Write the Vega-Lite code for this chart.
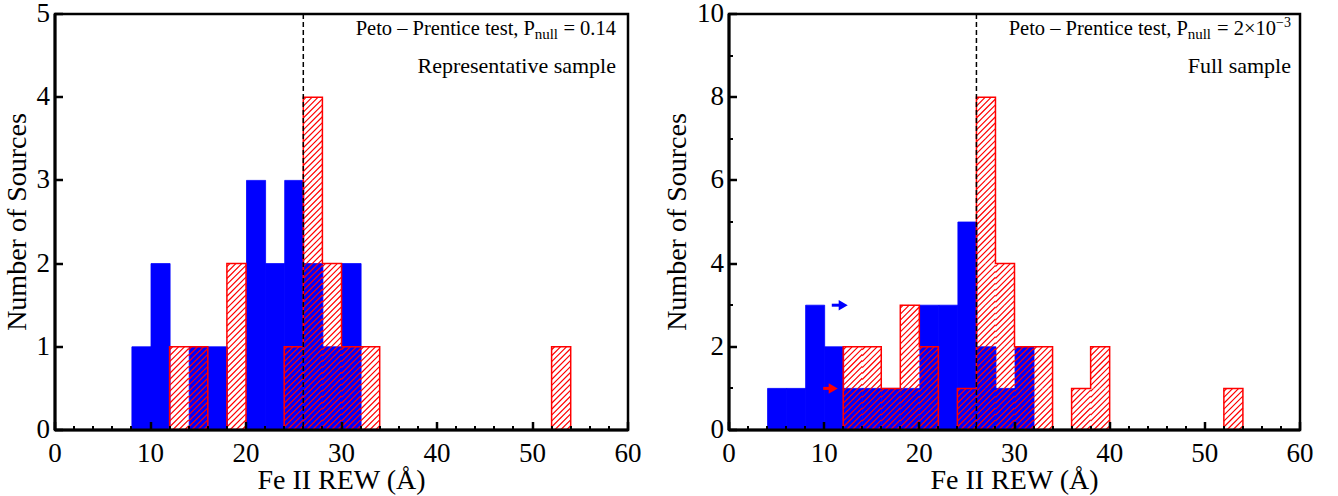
{
"$schema":"https://vega.github.io/schema/vega-lite/v6.json",
"background":"white",
"padding":{"left":2,"top":-2,"right":0,"bottom":0},
"spacing":19,
"config":{
 "font":"Liberation Serif",
 "view":{"stroke":"black","strokeWidth":2.5},
 "axis":{"domainColor":"black","domainWidth":3,"translate":0,"tickColor":"black","tickWidth":2.5,"labelColor":"black","labelFont":"Liberation Serif","labelFontSize":27,"titleFont":"Liberation Serif","titleFontSize":28,"titleFontWeight":"normal","titleColor":"black","grid":false,"labelFlush":false,"labelOverlap":false,"zindex":1}
},
"datasets":{
 "blue":[
  {"p":"R","lo":8,"hi":10,"count":1},{"p":"R","lo":10,"hi":12,"count":2},{"p":"R","lo":14,"hi":16,"count":1},{"p":"R","lo":16,"hi":18,"count":1},{"p":"R","lo":20,"hi":22,"count":3},{"p":"R","lo":22,"hi":24,"count":2},{"p":"R","lo":24,"hi":26,"count":3},{"p":"R","lo":26,"hi":28,"count":2},{"p":"R","lo":28,"hi":30,"count":1},{"p":"R","lo":30,"hi":32,"count":2},
  {"p":"F","lo":4,"hi":6,"count":1},{"p":"F","lo":6,"hi":8,"count":1},{"p":"F","lo":8,"hi":10,"count":3},{"p":"F","lo":10,"hi":12,"count":2},{"p":"F","lo":12,"hi":14,"count":1},{"p":"F","lo":14,"hi":16,"count":1},{"p":"F","lo":16,"hi":18,"count":1},{"p":"F","lo":18,"hi":20,"count":1},{"p":"F","lo":20,"hi":22,"count":3},{"p":"F","lo":22,"hi":24,"count":3},{"p":"F","lo":24,"hi":26,"count":5},{"p":"F","lo":26,"hi":28,"count":2},{"p":"F","lo":28,"hi":30,"count":1},{"p":"F","lo":30,"hi":32,"count":2}
 ],
 "red":[
  {"p":"R","lo":12,"hi":14,"n":1},{"p":"R","lo":14,"hi":16,"n":1},{"p":"R","lo":18,"hi":20,"n":1},{"p":"R","lo":18,"hi":20,"n":1},{"p":"R","lo":24,"hi":26,"n":1},{"p":"R","lo":26,"hi":28,"n":1},{"p":"R","lo":26,"hi":28,"n":1},{"p":"R","lo":26,"hi":28,"n":1},{"p":"R","lo":26,"hi":28,"n":1},{"p":"R","lo":28,"hi":30,"n":1},{"p":"R","lo":28,"hi":30,"n":1},{"p":"R","lo":30,"hi":32,"n":1},{"p":"R","lo":32,"hi":34,"n":1},{"p":"R","lo":52,"hi":54,"n":1},
  {"p":"F","lo":12,"hi":14,"n":1},{"p":"F","lo":12,"hi":14,"n":1},{"p":"F","lo":14,"hi":16,"n":1},{"p":"F","lo":14,"hi":16,"n":1},{"p":"F","lo":16,"hi":18,"n":1},{"p":"F","lo":18,"hi":20,"n":1},{"p":"F","lo":18,"hi":20,"n":1},{"p":"F","lo":18,"hi":20,"n":1},{"p":"F","lo":20,"hi":22,"n":1},{"p":"F","lo":20,"hi":22,"n":1},{"p":"F","lo":24,"hi":26,"n":1},{"p":"F","lo":26,"hi":28,"n":1},{"p":"F","lo":26,"hi":28,"n":1},{"p":"F","lo":26,"hi":28,"n":1},{"p":"F","lo":26,"hi":28,"n":1},{"p":"F","lo":26,"hi":28,"n":1},{"p":"F","lo":26,"hi":28,"n":1},{"p":"F","lo":26,"hi":28,"n":1},{"p":"F","lo":26,"hi":28,"n":1},{"p":"F","lo":28,"hi":30,"n":1},{"p":"F","lo":28,"hi":30,"n":1},{"p":"F","lo":28,"hi":30,"n":1},{"p":"F","lo":28,"hi":30,"n":1},{"p":"F","lo":30,"hi":32,"n":1},{"p":"F","lo":30,"hi":32,"n":1},{"p":"F","lo":32,"hi":34,"n":1},{"p":"F","lo":32,"hi":34,"n":1},{"p":"F","lo":36,"hi":38,"n":1},{"p":"F","lo":38,"hi":40,"n":1},{"p":"F","lo":38,"hi":40,"n":1},{"p":"F","lo":52,"hi":54,"n":1}
 ],
 "arrows":[
  {"x":10.8,"x2":12.0,"y":3,"c":"#0000ff"},
  {"x":9.9,"x2":10.95,"y":1,"c":"#ff0000"}
 ]
},
"hconcat":[
{
 "width":573,"height":416,
 "resolve":{"axis":{"x":"independent","y":"independent"}},
 "layer":[
  {"data":{"name":"blue"},"transform":[{"filter":"datum.p==='R'"}],
   "mark":{"type":"bar","binSpacing":0,"color":"#0000ff","stroke":"#0000ff","strokeWidth":0.8},
   "encoding":{
    "x":{"field":"lo","type":"quantitative","bin":"binned","scale":{"domain":[0,60],"nice":false},"axis":{"orient":"bottom","zindex":2,"values":[0,10,20,30,40,50,60],"tickSize":-8,"labelPadding":19,"title":"Fe II REW (Å)","titlePadding":0}},
    "x2":{"field":"hi"},
    "y":{"field":"count","type":"quantitative","scale":{"domain":[0,5],"nice":false},"axis":{"orient":"left","zindex":2,"values":[0,1,2,3,4,5],"tickSize":-8,"labelPadding":13,"title":"Number of Sources","titlePadding":5}}
   }},
  {"data":{"name":"red"},"transform":[{"filter":"datum.p==='R'"}],
   "mark":{"type":"point","shape":"M-1,-4.0448L-0.6888,-4.356M-1,-3.4225L-0.0665,-4.356M-1,-2.8002L0.5558,-4.356M-1,-2.1779L1,-4.1779M-1,-1.5556L1,-3.5556M-1,-0.9333L1,-2.9333M-1,-0.311L1,-2.311M-1,0.3113L1,-1.6887M-1,0.9336L1,-1.0664M-1,1.5559L1,-0.4441M-1,2.1782L1,0.1782M-1,2.8005L1,0.8005M-1,3.4228L1,1.4228M-1,4.0451L1,2.0451M-0.6886,4.356L1,2.6674M-0.0663,4.356L1,3.2897M0.556,4.356L1,3.912","size":364.81,"filled":false,"opacity":1,"color":"#ff0000","strokeWidth":1.2,"xOffset":9.55,"yOffset":41.6},
   "encoding":{
    "x":{"field":"lo","type":"quantitative","axis":null},
    "y":{"field":"n","type":"quantitative","stack":"zero","axis":null}
   }},
  {"data":{"name":"red"},"transform":[{"filter":"datum.p==='R'"},{"aggregate":[{"op":"count","as":"count"}],"groupby":["lo"]},{"impute":"count","key":"lo","keyvals":[10,12,14,16,18,20,22,24,26,28,30,32,34,36,38,40,42,44,46,48,50,52,54],"value":0}],
   "mark":{"type":"line","interpolate":"step-after","color":"#ff0000","strokeWidth":1.5,"strokeJoin":"miter"},
   "encoding":{
    "x":{"field":"lo","type":"quantitative","axis":null},
    "y":{"field":"count","type":"quantitative","axis":null}
   }},
  {"data":{"values":[{}]},
   "mark":{"type":"rule","color":"black","strokeWidth":1.5,"strokeDash":[5,3]},
   "encoding":{"x":{"datum":26,"type":"quantitative","axis":{"orient":"bottom","zindex":2,"values":[2,4,6,8,12,14,16,18,22,24,26,28,32,34,36,38,42,44,46,48,52,54,56,58],"labels":false,"domain":false,"title":null,"tickSize":-4,"tickWidth":2}}}},
  {"data":{"values":[{}]},
   "mark":{"type":"text","text":"Peto – Prentice test, P","align":"right","baseline":"alphabetic","dx":-93,"fontSize":20.5,"font":"Liberation Serif","color":"black"},
   "encoding":{"x":{"datum":60,"type":"quantitative","axis":null},"y":{"datum":4.747,"type":"quantitative","axis":null}}},
  {"data":{"values":[{}]},
   "mark":{"type":"text","text":"null","align":"right","baseline":"alphabetic","dx":-70,"fontSize":15,"font":"Liberation Serif","color":"black"},
   "encoding":{"x":{"datum":60,"type":"quantitative","axis":null},"y":{"datum":4.70,"type":"quantitative","axis":null}}},
  {"data":{"values":[{}]},
   "mark":{"type":"text","text":"= 0.14","align":"right","baseline":"alphabetic","dx":-12,"fontSize":20.5,"font":"Liberation Serif","color":"black"},
   "encoding":{"x":{"datum":60,"type":"quantitative","axis":null},"y":{"datum":4.747,"type":"quantitative","axis":null}}},
  {"data":{"values":[{}]},
   "mark":{"type":"text","text":"Representative sample","align":"right","baseline":"alphabetic","dx":-12,"fontSize":22,"font":"Liberation Serif","color":"black"},
   "encoding":{"x":{"datum":60,"type":"quantitative","axis":null},"y":{"datum":4.296,"type":"quantitative","axis":null}}}
 ]
},
{
 "width":571,"height":416,
 "resolve":{"axis":{"x":"independent","y":"independent"}},
 "layer":[
  {"data":{"name":"blue"},"transform":[{"filter":"datum.p==='F'"}],
   "mark":{"type":"bar","binSpacing":0,"color":"#0000ff","stroke":"#0000ff","strokeWidth":0.8},
   "encoding":{
    "x":{"field":"lo","type":"quantitative","bin":"binned","scale":{"domain":[0,60],"nice":false},"axis":{"orient":"bottom","zindex":2,"values":[0,10,20,30,40,50,60],"tickSize":-8,"labelPadding":19,"title":"Fe II REW (Å)","titlePadding":0}},
    "x2":{"field":"hi"},
    "y":{"field":"count","type":"quantitative","scale":{"domain":[0,10],"nice":false},"axis":{"orient":"left","zindex":2,"values":[0,2,4,6,8,10],"tickSize":-8,"labelPadding":13,"title":"Number of Sources","titlePadding":5}}
   }},
  {"data":{"name":"red"},"transform":[{"filter":"datum.p==='F'"}],
   "mark":{"type":"point","shape":"M-1,-1.8735L-0.6878,-2.1857M-1,-1.249L-0.0633,-2.1857M-1,-0.6245L0.5612,-2.1857M-1,0L1,-2M-1,0.6245L1,-1.3755M-1,1.249L1,-0.751M-1,1.8735L1,-0.1265M-0.6877,2.1857L1,0.498M-0.0632,2.1857L1,1.1225M0.5613,2.1857L1,1.747","size":362.26,"filled":false,"opacity":1,"color":"#ff0000","strokeWidth":1.2,"xOffset":9.517,"yOffset":20.8},
   "encoding":{
    "x":{"field":"lo","type":"quantitative","axis":null},
    "y":{"field":"n","type":"quantitative","stack":"zero","axis":{"orient":"left","zindex":2,"values":[1,3,5,7,9],"labels":false,"domain":false,"title":null,"tickSize":-4,"tickWidth":2}}
   }},
  {"data":{"name":"red"},"transform":[{"filter":"datum.p==='F'"},{"aggregate":[{"op":"count","as":"count"}],"groupby":["lo"]},{"impute":"count","key":"lo","keyvals":[10,12,14,16,18,20,22,24,26,28,30,32,34,36,38,40,42,44,46,48,50,52,54],"value":0}],
   "mark":{"type":"line","interpolate":"step-after","color":"#ff0000","strokeWidth":1.5,"strokeJoin":"miter"},
   "encoding":{
    "x":{"field":"lo","type":"quantitative","axis":null},
    "y":{"field":"count","type":"quantitative","axis":null}
   }},
  {"data":{"values":[{}]},
   "mark":{"type":"rule","color":"black","strokeWidth":1.5,"strokeDash":[5,3]},
   "encoding":{"x":{"datum":26,"type":"quantitative","axis":{"orient":"bottom","zindex":2,"values":[2,4,6,8,12,14,16,18,22,24,26,28,32,34,36,38,42,44,46,48,52,54,56,58],"labels":false,"domain":false,"title":null,"tickSize":-4,"tickWidth":2}}}},
  {"data":{"name":"arrows"},
   "mark":{"type":"rule","strokeWidth":3},
   "encoding":{"x":{"field":"x","type":"quantitative","axis":null},"x2":{"field":"x2"},"y":{"field":"y","type":"quantitative","axis":null},"color":{"field":"c","type":"nominal","scale":null}}},
  {"data":{"name":"arrows"},
   "mark":{"type":"point","shape":"triangle-right","filled":true,"size":110,"opacity":1},
   "encoding":{"x":{"field":"x2","type":"quantitative","axis":null},"y":{"field":"y","type":"quantitative","axis":null},"color":{"field":"c","type":"nominal","scale":null}}},
  {"data":{"values":[{}]},
   "mark":{"type":"text","text":"Peto – Prentice test, P","align":"right","baseline":"alphabetic","dx":-112,"fontSize":20.5,"font":"Liberation Serif","color":"black"},
   "encoding":{"x":{"datum":60,"type":"quantitative","axis":null},"y":{"datum":9.495,"type":"quantitative","axis":null}}},
  {"data":{"values":[{}]},
   "mark":{"type":"text","text":"null","align":"right","baseline":"alphabetic","dx":-89,"fontSize":15,"font":"Liberation Serif","color":"black"},
   "encoding":{"x":{"datum":60,"type":"quantitative","axis":null},"y":{"datum":9.40,"type":"quantitative","axis":null}}},
  {"data":{"values":[{}]},
   "mark":{"type":"text","text":"= 2×10","align":"right","baseline":"alphabetic","dx":-24,"fontSize":20.5,"font":"Liberation Serif","color":"black"},
   "encoding":{"x":{"datum":60,"type":"quantitative","axis":null},"y":{"datum":9.495,"type":"quantitative","axis":null}}},
  {"data":{"values":[{}]},
   "mark":{"type":"text","text":"−3","align":"right","baseline":"alphabetic","dx":-9,"fontSize":14,"font":"Liberation Serif","color":"black"},
   "encoding":{"x":{"datum":60,"type":"quantitative","axis":null},"y":{"datum":9.69,"type":"quantitative","axis":null}}},
  {"data":{"values":[{}]},
   "mark":{"type":"text","text":"Full sample","align":"right","baseline":"alphabetic","dx":-9,"fontSize":22,"font":"Liberation Serif","color":"black"},
   "encoding":{"x":{"datum":60,"type":"quantitative","axis":null},"y":{"datum":8.59,"type":"quantitative","axis":null}}}
 ]
}
]
}
